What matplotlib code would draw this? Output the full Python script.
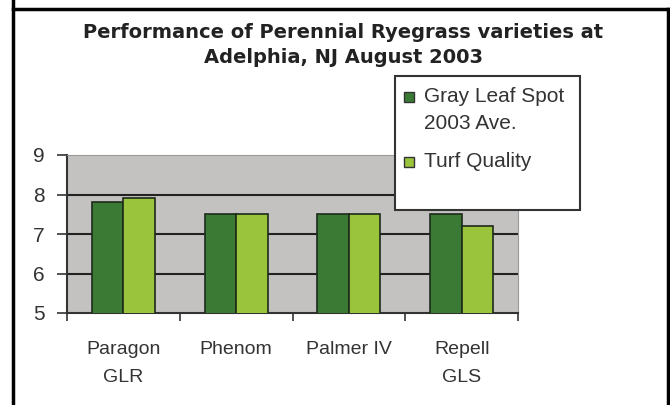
import matplotlib
matplotlib.use("Agg")
import matplotlib.pyplot as plt
from matplotlib.patches import Rectangle
from matplotlib.lines import Line2D
import numpy as np

# data
varieties = ["Paragon\nGLR", "Phenom", "Palmer IV", "Repell\nGLS"]
gray_leaf_spot = [7.8, 7.5, 7.5, 7.5]
turf_quality = [7.9, 7.5, 7.5, 7.2]
series_names = ["Gray Leaf Spot\n2003 Ave.", "Turf Quality"]
y_ticks = [5, 6, 7, 8, 9]

dark_green = "#3b7a34"
light_green = "#9ac43c"
plot_gray = "#c4c2c0"
text_col = "#333333"

plt.rcParams["font.family"] = ["Liberation Sans", "DejaVu Sans"]

W, H = 670, 405
fig = plt.figure(figsize=(W / 100, H / 100), dpi=100)
ax = fig.add_axes([67 / W, 1 - 313 / H, 451 / W, 158 / H])
ax.set_facecolor(plot_gray)

x = np.arange(len(varieties))
w = 0.28
ax.bar(x - w / 2, gray_leaf_spot, w, color=dark_green,
       edgecolor="#1e2a1a", linewidth=1.2, zorder=3)
ax.bar(x + w / 2, turf_quality, w, color=light_green,
       edgecolor="#1e2a1a", linewidth=1.2, zorder=3)

ax.set_ylim(5, 9)
ax.set_xlim(-0.5, len(varieties) - 0.5)
ax.set_yticks(y_ticks)
ax.set_yticklabels([str(t) for t in y_ticks], fontsize=15, color=text_col)
for t in y_ticks[1:-1]:
    ax.axhline(t, color="#222222", linewidth=1.5, zorder=1)

# category labels centred, tick marks between groups
ax.set_xticks(np.arange(-0.5, len(varieties), 1.0))
ax.set_xticklabels([])
ax.set_xticks(x, minor=True)
ax.set_xticklabels(varieties, minor=True, fontsize=14, color=text_col,
                   linespacing=1.9)
ax.tick_params(axis="x", which="minor", length=0, pad=20)
ax.tick_params(axis="x", which="major", length=6, width=1.2, color=text_col)
ax.tick_params(axis="y", length=7, width=1.2, color=text_col, pad=9)

ax.spines["left"].set_color(text_col)
ax.spines["left"].set_linewidth(1.5)
ax.spines["bottom"].set_color(text_col)
ax.spines["bottom"].set_linewidth(1.5)
ax.spines["top"].set_color("#999999")
ax.spines["right"].set_color("#999999")

fig.text(343 / W, 1 - 45 / H, "Performance of Perennial Ryegrass varieties at\nAdelphia, NJ August 2003",
         ha="center", va="center", fontsize=14, fontweight="bold",
         family="DejaVu Sans", color="#222222", linespacing=1.4)

# legend box, drawn by hand so each swatch sits on the first line of its label
fig.patches.append(Rectangle((395 / W, 1 - 210 / H), 185 / W, 134 / H,
                             transform=fig.transFigure, facecolor="white",
                             edgecolor=text_col, linewidth=1.5, zorder=5))
for name, col, y_px in zip(series_names, [dark_green, light_green], [97, 162]):
    fig.patches.append(Rectangle((404 / W, 1 - (y_px + 5) / H), 10 / W, 10 / H,
                                 transform=fig.transFigure, facecolor=col,
                                 edgecolor=text_col, linewidth=1, zorder=6))
    fig.text(424 / W, 1 - (y_px - 10) / H, name, ha="left", va="top",
             fontsize=15, color=text_col, linespacing=1.55, zorder=6)

# outer frame
for xs, ys in [([13, 13], [0, H]), ([13, 668], [9, 9]), ([668, 668], [9, H])]:
    fig.lines.append(Line2D([v / W for v in xs], [1 - v / H for v in ys],
                            transform=fig.transFigure, color="black", linewidth=2.5))

fig.savefig("out.png", dpi=100)
